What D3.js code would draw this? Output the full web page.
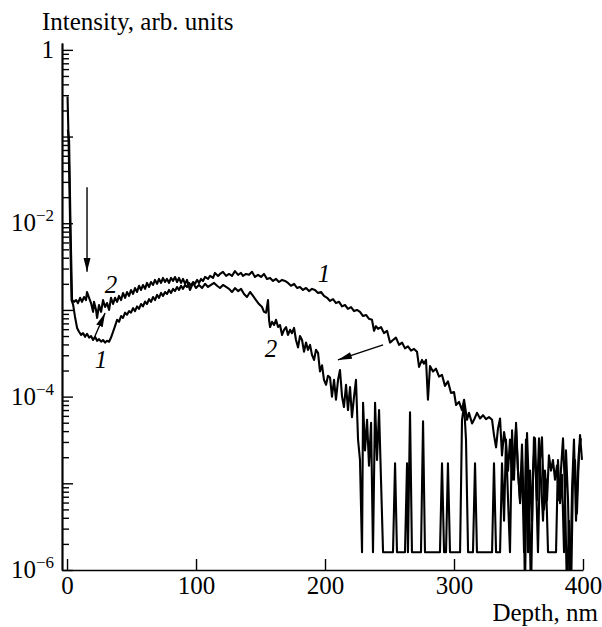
<!DOCTYPE html>
<html>
<head>
<meta charset="utf-8">
<script src="https://cdn.jsdelivr.net/npm/d3@7"></script>
<style>
  body { margin: 0; background: #fff; }
  text { font-family: "Liberation Serif", "DejaVu Serif", "Times New Roman", serif; fill: #000; }
</style>
</head>
<body>
<div id="plot"></div>
<script>
// curve 1: [depth nm, intensity]
var curve1 = [
[0.4,0.29],[1.2,0.09],[1.9,0.025],[2.7,5e-3],[3.5,1.3e-3],[4.7,1.15e-3],[6.2,8.3e-4],[7.8,6.2e-4],[9.3,5.6e-4],[10.9,5.15e-4],
[12.4,5.4e-4],[14,4.9e-4],[15.5,5.3e-4],[17.1,4.8e-4],[18.6,5.0e-4],[20.2,4.5e-4],[21.7,4.9e-4],[23.3,4.4e-4],[24.8,4.6e-4],[26.4,4.3e-4],
[27.9,4.5e-4],[29.5,4.2e-4],[31,4.4e-4],[32.6,4.3e-4],[34.1,4.8e-4],[35.7,5.6e-4],[37.2,6.5e-4],[38.8,7.7e-4],[40.3,7.3e-4],[41.9,8.5e-4],
[43.4,8.1e-4],[45,9.3e-4],[46.5,8.8e-4],[48.1,9.7e-4],[49.6,9.3e-4],[51.2,1.05e-3],[52.7,9.7e-4],[54.3,1.1e-3],[55.8,1.03e-3],[57.4,1.17e-3],
[58.9,1.1e-3],[60.5,1.25e-3],[62,1.17e-3],[63.6,1.33e-3],[65.1,1.24e-3],[66.7,1.41e-3],[68.2,1.3e-3],[69.8,1.49e-3],[71.3,1.38e-3],[72.9,1.57e-3],
[74.4,1.45e-3],[76,1.61e-3],[77.5,1.53e-3],[79.1,1.7e-3],[80.6,1.57e-3],[82.2,1.75e-3],[83.7,1.65e-3],[85.3,1.84e-3],[86.8,1.7e-3],[88.4,1.9e-3],
[89.9,1.75e-3],[91.5,1.94e-3],[93,1.84e-3],[94.6,2.05e-3],[96.1,1.9e-3],[97.7,2.1e-3],[99.2,2.0e-3],[100.8,2.22e-3],[102.3,2.05e-3],[103.9,2.28e-3],
[105.4,2.16e-3],[107,2.4e-3],[109.3,2.28e-3],[110.9,2.47e-3],[113.2,2.34e-3],[114.7,2.67e-3],[117.1,2.47e-3],[118.6,2.6e-3],[120.9,2.75e-3],[123.3,2.47e-3],
[125.6,2.6e-3],[127.9,2.47e-3],[130.2,2.8e-3],[132.6,2.54e-3],[134.9,2.67e-3],[136.4,2.47e-3],[138.8,2.6e-3],[141.1,2.54e-3],[143.4,2.75e-3],[145.7,2.4e-3],
[148.1,2.54e-3],[150.4,2.4e-3],[152.7,2.6e-3],[155,2.28e-3],[157.4,2.34e-3],[159.7,2.16e-3],[162,2.28e-3],[164.3,2.1e-3],[166.7,2.22e-3],[169,2.16e-3],
[171.3,2.05e-3],[173.6,1.9e-3],[176,2.0e-3],[178.3,1.79e-3],[180.6,1.84e-3],[182.9,1.7e-3],[185.3,1.79e-3],[187.6,1.65e-3],[189.9,1.75e-3],[192.2,1.7e-3],
[194.6,1.57e-3],[196.9,1.61e-3],[199.2,1.45e-3],[201.6,1.38e-3],[203.9,1.27e-3],[206.2,1.33e-3],[208.5,1.2e-3],[210.9,1.24e-3],[213.2,1.1e-3],[215.5,1.14e-3],
[217.8,1.03e-3],[220.2,1.08e-3],[222.5,9.7e-4],[224.8,1.0e-3],[227.1,9.5e-4],[229.5,8.5e-4],[231.8,8.75e-4],[234.1,7.9e-4],[236.4,7.7e-4],[238,5.75e-4],
[239.5,6.5e-4],[241.1,6.05e-4],[243.4,6.35e-4],[245.7,5.4e-4],[248.1,5.75e-4],[250.4,4.2e-4],[252.7,4.5e-4],[255,4.8e-4],[257.4,3.95e-4],[259.7,4.2e-4],
[262,3.6e-4],[264.3,3.8e-4],[266.7,3.4e-4],[269,3.55e-4],[271.3,3.3e-4],[272.9,2.2e-4],[275.2,2.65e-4],[276.7,2.4e-4],[278.3,2.65e-4],[279.8,9.2e-5],
[281.4,2.25e-4],[283.7,1.95e-4],[286,2.1e-4],[288.4,1.7e-4],[290.7,1.78e-4],[293,1.33e-4],[295.3,1.5e-4],[297.7,1.1e-4],[300,1.13e-4],[301.6,8.0e-5],
[303.9,8.7e-5],[306.2,7.0e-5],[307.8,9.2e-5],[310.1,5.4e-5],[311.6,6.5e-5],[314,4.9e-5],[315.5,5.4e-5],[317.8,6.5e-5],[320.2,5.6e-5],[322.5,6.1e-5],
[324.8,5.5e-5],[327.1,5.8e-5],[329.5,5.4e-5],[331,3.6e-5],[332.6,2.6e-5],[334.1,4.3e-5],[335.7,5.6e-5],[337.2,2.1e-5],[338.8,3.9e-5],[340.3,2.8e-5],
[341.9,1.4e-5],[343.4,3.2e-5],[345,1.1e-5],[346.5,2.1e-5],[348.1,4.3e-5],[349.6,1.4e-5],[351.2,6.4e-6],[352.7,2.8e-5],[354.3,3.7e-6],[355,5e-7],
[356.6,3.8e-5],[358.1,8.6e-6],[359.7,5e-7],[361.2,1.4e-5],[362.8,3.3e-5],[364.3,6.4e-6],[365.9,3.3e-5],[367.4,1.1e-5],[369,3.7e-6],[370.5,1.4e-5],
[372.1,6.4e-6],[373.6,2.1e-5],[375.2,1.4e-5],[376.7,1.86e-5],[378.3,1.1e-5],[379.8,1.6e-5],[381.4,6.4e-6],[382.9,1.4e-5],[384.5,3.3e-5],[386,8.6e-6],
[387.6,5e-7],[389.1,3.7e-6],[390.7,5e-7],[392.2,1.1e-5],[393.8,1.86e-5],[395.3,4.5e-6],[396.9,2.4e-5],[398.4,3.3e-5]
];

// curve 2: [depth nm, intensity]
var curve2 = [
[0.6,0.12],[1.6,0.09],[2.7,9.2e-3],[3.9,1.3e-3],[5.4,1.24e-3],[7,1.3e-3],[8.5,1.2e-3],[10.1,1.38e-3],[11.6,1.24e-3],[13.2,1.41e-3],
[14.7,1.3e-3],[15.5,1.61e-3],[17.1,1.38e-3],[18.6,1.2e-3],[20.2,9.5e-4],[20.9,1.24e-3],[22.5,1.0e-3],[23.3,8.1e-4],[24.8,1.14e-3],[26.4,9.5e-4],
[27.9,1.3e-3],[29.5,1.08e-3],[31,1.2e-3],[32.6,1.0e-3],[34.1,1.38e-3],[35.7,1.17e-3],[37.2,1.38e-3],[38.8,1.24e-3],[40.3,1.45e-3],[41.9,1.3e-3],
[43.4,1.57e-3],[45,1.38e-3],[46.5,1.61e-3],[48.1,1.45e-3],[49.6,1.7e-3],[51.2,1.53e-3],[52.7,1.79e-3],[54.3,1.61e-3],[55.8,1.9e-3],[57.4,1.7e-3],
[58.9,1.94e-3],[60.5,1.75e-3],[62,2.05e-3],[63.6,1.84e-3],[65.1,2.1e-3],[66.7,1.94e-3],[68.2,2.22e-3],[69.8,2.0e-3],[71.3,2.28e-3],[72.9,2.05e-3],
[74.4,2.34e-3],[76,2.1e-3],[77.5,2.28e-3],[79.1,2.05e-3],[80.6,2.34e-3],[82.2,2.16e-3],[83.7,2.4e-3],[85.3,2.1e-3],[86.8,2.34e-3],[88.4,2.05e-3],
[89.9,2.28e-3],[91.5,2.0e-3],[93,2.22e-3],[95.3,1.7e-3],[97.7,2.05e-3],[100,1.79e-3],[102.3,1.94e-3],[104.7,1.79e-3],[107,2.0e-3],[109.3,1.84e-3],
[111.6,1.94e-3],[114,2.05e-3],[116.3,1.9e-3],[118.6,1.79e-3],[120.9,1.94e-3],[123.3,1.84e-3],[125.6,1.75e-3],[127.9,1.61e-3],[130.2,1.79e-3],[132.6,1.65e-3],
[134.9,1.75e-3],[137.2,1.53e-3],[139.5,1.41e-3],[141.9,1.61e-3],[144.2,1.45e-3],[146.5,1.3e-3],[148.8,1.17e-3],[151.2,1.08e-3],[152.7,9.5e-4],[154.3,9.3e-4],
[155.8,1.3e-3],[156.6,7.7e-4],[157.4,6.35e-4],[158.9,7.3e-4],[160.5,6.7e-4],[162,7.7e-4],[163.6,6.35e-4],[165.1,6.7e-4],[166.7,5.15e-4],[168.2,5.9e-4],
[169.8,6.35e-4],[171.3,5.15e-4],[172.9,5.9e-4],[174.4,5.4e-4],[176,6.2e-4],[177.5,4.5e-4],[179.1,3.7e-4],[180.6,5.0e-4],[182.2,4.5e-4],[183.7,3.3e-4],
[185.3,4.2e-4],[186.8,3.46e-4],[188.4,3.95e-4],[189.9,3.03e-4],[191.5,2.65e-4],[193,3.46e-4],[194.6,3.2e-4],[196.1,1.95e-4],[197.7,2.3e-4],[199.2,1.56e-4],
[200.8,1.37e-4],[202.3,1.74e-4],[203.9,1.66e-4],[205.4,1.0e-4],[207,1.56e-4],[208.5,9.2e-5],[210.1,1.56e-4],[211.6,2.03e-4],[213.2,1.0e-4],[214.7,7.6e-5],
[216.3,1.37e-4],[217.8,7.0e-5],[219.4,1.29e-4],[220.9,5.8e-5],[222.5,1.0e-4],[224,1.56e-4],[225.6,3.2e-5],[227.1,1.86e-5],[228.7,1.6e-6],[229.5,8.5e-5],
[231,2.4e-5],[232.6,5.4e-5],[234.1,1.6e-5],[235.7,5.0e-5],[237.2,1.6e-6],[238.8,8.5e-5],[240.3,1.86e-5],[241.9,7.0e-5],[243.4,1.1e-5],[245,1.6e-6],
[252.7,1.6e-6],[254.3,1.7e-5],[255.8,1.6e-6],[262,1.6e-6],[263.6,1.7e-5],[264.3,1.6e-6],[265.9,6.6e-5],[267.4,1.6e-6],[274.4,1.6e-6],[276,5.2e-5],
[277.5,1.6e-6],[289.1,1.6e-6],[290.7,1.7e-5],[292.3,1.6e-6],[293.8,1.6e-6],[295.3,1.7e-5],[296.9,1.6e-6],[304.7,1.6e-6],[306.2,5.4e-5],[307.8,8.0e-5],
[309.3,3.2e-5],[310.9,1.6e-6],[314.7,1.6e-6],[316.3,1.7e-5],[317.8,1.6e-6],[329.5,1.6e-6],[331,1.7e-5],[332.6,1.6e-6],[335.7,1.6e-6],[337.2,1.7e-5],
[338.8,3.7e-6],[340.3,3.2e-5],[341.9,6.4e-6],[343.4,1.6e-6],[345,4.1e-5],[346.5,1.1e-5],[348.1,5.0e-5],[349.6,1.4e-5],[351.2,5.9e-6],[352.7,1.86e-5],
[354.3,1.6e-6],[355.8,3.2e-5],[357.4,1.6e-6],[358.9,1.4e-5],[360.5,3.7e-6],[362,3.4e-5],[363.6,1.1e-5],[365.1,1.6e-6],[366.7,1.86e-5],[368.2,3.4e-5],
[369.8,5.0e-6],[371.3,1.1e-5],[372.9,1.6e-6],[379.1,1.6e-6],[380.6,1.86e-5],[382.2,5.9e-6],[383.7,1.25e-5],[385.3,1.6e-6],[386.8,2.4e-5],[388.4,6.4e-6],
[389.9,5e-7],[391.5,8.6e-6],[393,3.2e-5],[394.6,3.7e-6],[396.1,1.4e-5],[397.7,3.6e-5],[399.2,1.86e-5]
];

var xTicks = [0, 100, 200, 300, 400];
var yLabelExps = [0, -2, -4, -6];   // labelled decades

// curve labels, placed in data units [depth, intensity]
var curveLabels = [
  {text: "2", at: [34.1, 1.57e-3]},
  {text: "1", at: [26.4, 2.14e-4]},
  {text: "1", at: [199.2, 2.1e-3]},
  {text: "2", at: [158.1, 2.87e-4]}
];
// arrows [from, to] in data units
var arrows = [
  [[15.5, 2.6e-2], [15.5, 2.75e-3]],
  [[21.7, 5.0e-4], [29.5, 9.2e-4]],
  [[245, 3.95e-4], [210, 2.65e-4]]
];

var width = 602, height = 627;
var svg = d3.select("#plot").append("svg")
  .attr("width", width)
  .attr("height", height);

var x = d3.scaleLinear().domain([-3.9, 400]).range([62, 583]);
var y = d3.scaleLog().domain([1e-6, 1.2]).range([570, 43]);

// ---- ticks for the log axis
var majorTicks = d3.range(-6, 1).map(function(k){ return Math.pow(10, k); });
var minorTicks = [];
d3.range(-6, 0).forEach(function(k){
  for (var m = 2; m <= 9; m++) minorTicks.push(m * Math.pow(10, k));
});

svg.append("g")
  .attr("transform", "translate(62,0)")
  .call(d3.axisLeft(y).tickValues(minorTicks).tickSizeInner(-7).tickSizeOuter(0).tickFormat(""));
svg.append("g")
  .attr("transform", "translate(62,0)")
  .call(d3.axisLeft(y).tickValues(majorTicks).tickSizeInner(-11).tickSizeOuter(0).tickFormat(""));

// x axis
var xg = svg.append("g")
  .attr("transform", "translate(0,570)")
  .call(d3.axisBottom(x).tickValues(xTicks).tickSizeInner(-11).tickSizeOuter(0).tickPadding(6));
xg.selectAll("text")
  .attr("font-family", null)
  .style("font-size", "25px");

svg.selectAll(".domain").attr("stroke", "#000").attr("stroke-width", 1.7);
svg.selectAll(".tick line").attr("stroke", "#000").attr("stroke-width", 1.4);

// y labels
yLabelExps.forEach(function(e){
  var t = svg.append("text")
    .attr("x", 54)
    .attr("y", y(Math.pow(10, e)) + 8)
    .attr("text-anchor", "end")
    .style("font-size", "25px");
  if (e === 0) {
    t.text("1");
  } else {
    t.append("tspan").text("10");
    t.append("tspan").attr("dy", -10).style("font-size", "17px").text("\u2212" + Math.abs(e));
  }
});

// axis titles
svg.append("text")
  .attr("x", 42).attr("y", 30)
  .style("font-size", "25px")
  .text("Intensity, arb. units");
svg.append("text")
  .attr("x", 598).attr("y", 621)
  .attr("text-anchor", "end")
  .style("font-size", "25px")
  .text("Depth, nm");

// ---- curves
svg.append("clipPath").attr("id", "clip")
  .append("rect").attr("x", 62).attr("y", 40).attr("width", 525).attr("height", 530);

var line = d3.line()
  .x(function(d){ return x(d[0]); })
  .y(function(d){ return y(d[1]); });

[curve1, curve2].forEach(function(c){
  svg.append("path")
    .datum(c)
    .attr("clip-path", "url(#clip)")
    .attr("d", line)
    .attr("fill", "none")
    .attr("stroke", "#000")
    .attr("stroke-width", 2.1)
    .attr("stroke-linejoin", "round");
});

// ---- annotations
svg.append("defs").append("marker")
  .attr("id", "head")
  .attr("markerUnits", "userSpaceOnUse")
  .attr("markerWidth", 15).attr("markerHeight", 8)
  .attr("refX", 14).attr("refY", 4)
  .attr("orient", "auto")
  .append("path")
  .attr("d", "M0,0.5 L14,4 L0,7.5 Z")
  .attr("fill", "#000");

arrows.forEach(function(a){
  svg.append("line")
    .attr("x1", x(a[0][0])).attr("y1", y(a[0][1]))
    .attr("x2", x(a[1][0])).attr("y2", y(a[1][1]))
    .attr("stroke", "#000")
    .attr("stroke-width", 1.4)
    .attr("marker-end", "url(#head)");
});

svg.selectAll(".clabel")
  .data(curveLabels)
  .enter()
  .append("text")
  .attr("class", "clabel")
  .attr("x", function(d){ return x(d.at[0]); })
  .attr("y", function(d){ return y(d.at[1]); })
  .attr("text-anchor", "middle")
  .style("font-size", "25px")
  .style("font-style", "italic")
  .text(function(d){ return d.text; });
</script>
</body>
</html>
